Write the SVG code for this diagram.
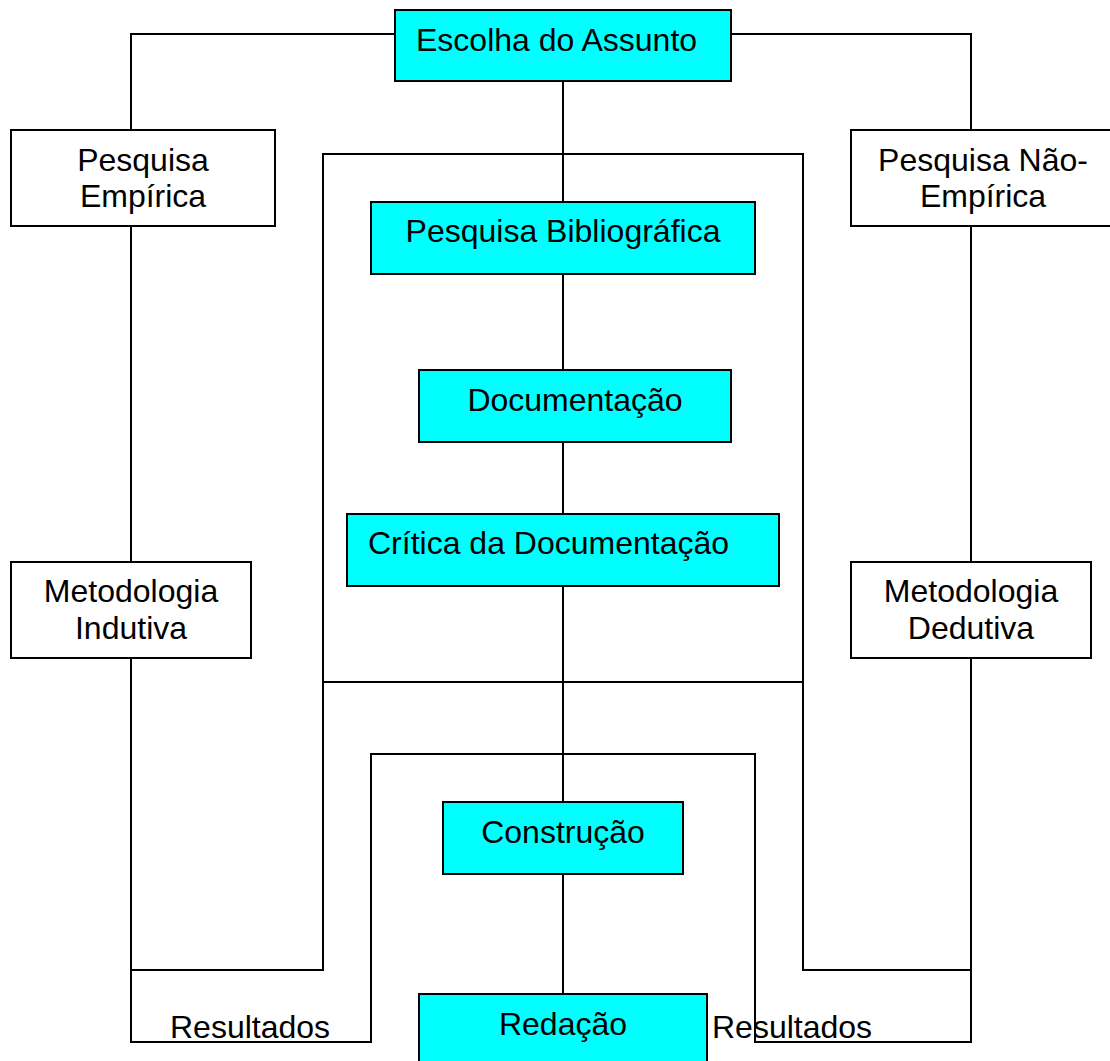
<svg xmlns="http://www.w3.org/2000/svg" width="1110" height="1061" viewBox="0 0 1110 1061">
<style>
.box{stroke:#000;stroke-width:2}
.c{fill:#00ffff}
.w{fill:#fff}
text{font-family:"Liberation Sans",Arial,sans-serif;font-size:32px;fill:#000}
.m{text-anchor:middle}
.ln{fill:none;stroke:#000;stroke-width:2;stroke-linecap:square}
</style>
<rect width="1110" height="1061" fill="#fff"/>
<g id="connectors" class="ln">
<polyline points="395,34 131,34 131,130"/>
<polyline points="731,34 971,34 971,130"/>
<line x1="563" y1="81" x2="563" y2="202"/>
<line x1="563" y1="274" x2="563" y2="370"/>
<line x1="563" y1="442" x2="563" y2="514"/>
<line x1="563" y1="586" x2="563" y2="802"/>
<line x1="563" y1="874" x2="563" y2="994"/>
<polyline points="323,970 323,154 803,154 803,970"/>
<line x1="323" y1="682" x2="803" y2="682"/>
<polyline points="371,1042 371,754 755,754 755,1042"/>
<line x1="131" y1="226" x2="131" y2="562"/>
<polyline points="131,658 131,1042 371,1042"/>
<line x1="131" y1="970" x2="323" y2="970"/>
<line x1="971" y1="226" x2="971" y2="562"/>
<polyline points="971,658 971,1042 755,1042"/>
<line x1="803" y1="970" x2="971" y2="970"/>
</g>
<g id="escolha"><rect class="box c" x="395" y="10" width="336" height="71"/><text x="416" y="51">Escolha do Assunto</text></g>
<g id="pesquisa-empirica"><rect class="box w" x="11" y="130" width="264" height="96"/><text class="m" x="143" y="171">Pesquisa</text><text class="m" x="143" y="207">Empírica</text></g>
<g id="pesquisa-nao-empirica"><rect class="box w" x="851" y="130" width="264" height="96"/><text class="m" x="983" y="171">Pesquisa Não-</text><text class="m" x="983" y="207">Empírica</text></g>
<g id="bibliografica"><rect class="box c" x="371" y="202" width="384" height="72"/><text class="m" x="563" y="242">Pesquisa Bibliográfica</text></g>
<g id="documentacao"><rect class="box c" x="419" y="370" width="312" height="72"/><text class="m" x="575" y="411">Documentação</text></g>
<g id="critica"><rect class="box c" x="347" y="514" width="432" height="72"/><text x="368" y="554">Crítica da Documentação</text></g>
<g id="indutiva"><rect class="box w" x="11" y="562" width="240" height="96"/><text class="m" x="131" y="602">Metodologia</text><text class="m" x="131" y="639">Indutiva</text></g>
<g id="dedutiva"><rect class="box w" x="851" y="562" width="240" height="96"/><text class="m" x="971" y="602">Metodologia</text><text class="m" x="971" y="639">Dedutiva</text></g>
<g id="construcao"><rect class="box c" x="443" y="802" width="240" height="72"/><text class="m" x="563" y="843">Construção</text></g>
<g id="redacao"><rect class="box c" x="419" y="994" width="288" height="80"/><text class="m" x="563" y="1035">Redação</text></g>
<g id="resultados-left"><text x="170" y="1038">Resultados</text></g>
<g id="resultados-right"><text x="712" y="1038">Resultados</text></g>
</svg>
